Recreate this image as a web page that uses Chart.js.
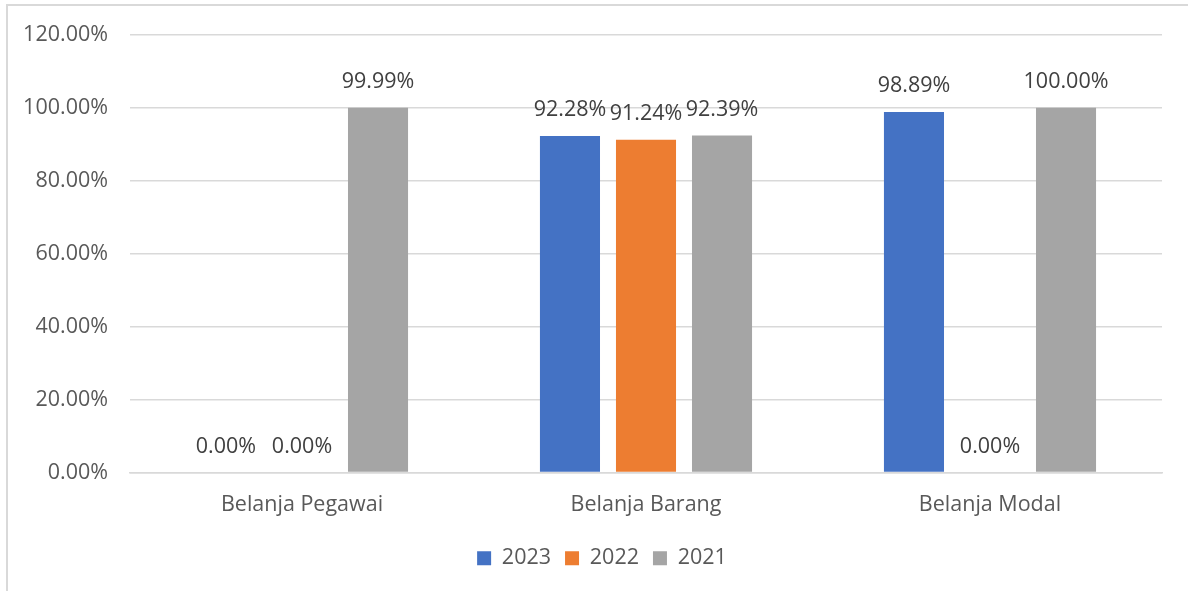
<!DOCTYPE html>
<html lang="en">
<head>
    <meta charset="UTF-8">
    <title>Realisasi Belanja</title>
    <script src="https://cdn.jsdelivr.net/npm/chart.js"></script>
    <style>
        body { margin: 0; background: #fff; }
        #frame { position: absolute; left: 6px; top: 4px; width: 1200px; height: 600px;
                 border-left: 2px solid #d9d9d9; border-top: 2px solid #d9d9d9; }
        #wrap { position: absolute; left: 0; top: 0; width: 1188px; height: 591px; }
    </style>
</head>
<body>
    <div id="frame"></div>
    <div id="wrap"><canvas id="chart"></canvas></div>
    <script>
        const categories = ['Belanja Pegawai', 'Belanja Barang', 'Belanja Modal'];
        const seriesNames = ['2023', '2022', '2021'];
        const values2023 = [0, 92.28, 98.89];
        const values2022 = [0, 91.24, 0];
        const values2021 = [99.99, 92.39, 100];
        const colors = ['#4472C4', '#ED7D31', '#A5A5A5'];

        const font = 'Open Sans, Noto Sans, sans-serif';
        const fs = 21.5;

        // labels above each bar, Excel style
        const barLabels = {
            id: 'barLabels',
            afterDatasetsDraw(chart) {
                const ctx = chart.ctx;
                ctx.save();
                ctx.font = fs + 'px ' + font;
                ctx.fillStyle = '#404040';
                ctx.textAlign = 'center';
                ctx.textBaseline = 'middle';
                chart.data.datasets.forEach((ds, i) => {
                    chart.getDatasetMeta(i).data.forEach((bar, j) => {
                        ctx.fillText(ds.data[j].toFixed(2) + '%', bar.x, bar.y - 26);
                    });
                });
                ctx.restore();
            }
        };

        // legend sits a bit right of canvas centre in the original
        const legendShift = {
            id: 'legendShift',
            afterLayout(chart) {
                chart.legend.left += 16;
                chart.legend.right += 16;
            }
        };

        new Chart(document.getElementById('chart'), {
            type: 'bar',
            data: {
                labels: categories,
                datasets: [
                    { label: seriesNames[0], data: values2023, backgroundColor: colors[0] },
                    { label: seriesNames[1], data: values2022, backgroundColor: colors[1] },
                    { label: seriesNames[2], data: values2021, backgroundColor: colors[2] }
                ]
            },
            options: {
                responsive: true,
                maintainAspectRatio: false,
                animation: false,
                datasets: { bar: { barPercentage: 0.79, categoryPercentage: 0.663 } },
                layout: { padding: { left: 10, right: 26, top: 21, bottom: 12 } },
                scales: {
                    x: {
                        afterFit(scale) { scale.height = 61; },
                        grid: { display: false },
                        border: { color: '#d9d9d9', width: 1.5 },
                        ticks: { color: '#595959', font: { family: font, size: fs }, padding: 11 }
                    },
                    y: {
                        min: 0,
                        max: 120,
                        afterFit(scale) { scale.width = 120; },
                        border: { display: false },
                        grid: { color: '#d9d9d9', lineWidth: 1.5, drawTicks: false },
                        ticks: {
                            stepSize: 20,
                            color: '#595959',
                            padding: 22,
                            font: { family: font, size: fs },
                            callback: v => v.toFixed(2) + '%'
                        }
                    }
                },
                plugins: {
                    tooltip: { enabled: false },
                    legend: {
                        position: 'bottom',
                        labels: {
                            color: '#595959',
                            boxWidth: 14,
                            boxHeight: 14,
                            padding: 14,
                            font: { family: font, size: fs }
                        }
                    }
                }
            },
            plugins: [barLabels, legendShift]
        });
    </script>
</body>
</html>
